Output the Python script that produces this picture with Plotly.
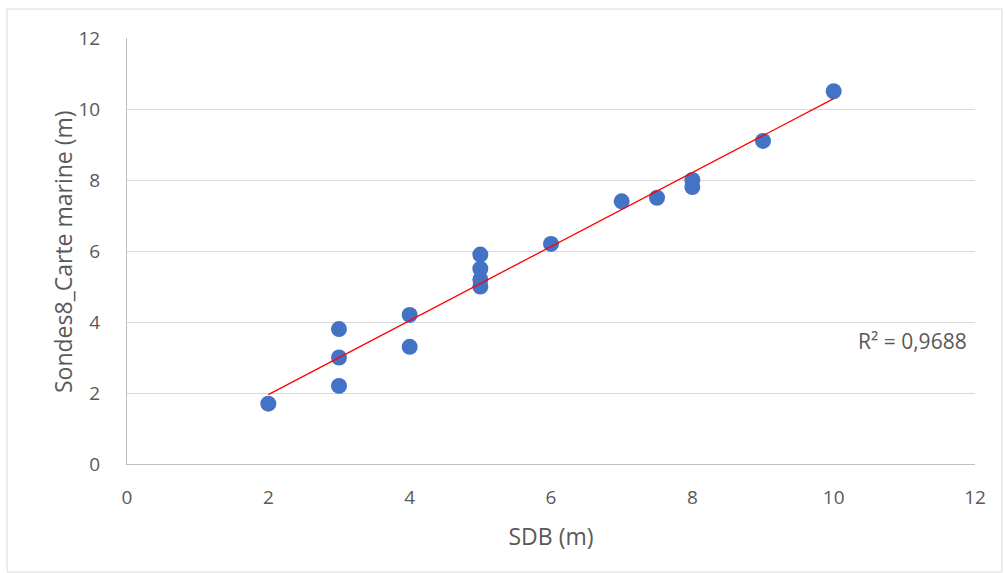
import numpy as np
import plotly.graph_objects as go

# Data
sdb = [2, 3, 3, 3, 4, 4, 5, 5, 5, 5, 6, 7, 7.5, 8, 8, 9, 10]
sondes = [1.7, 3.8, 3.0, 2.2, 4.2, 3.3, 5.9, 5.5, 5.2, 5.0, 6.2, 7.4, 7.5, 8.0, 7.8, 9.1, 10.5]
x_ticks = [0, 2, 4, 6, 8, 10, 12]
y_ticks = [0, 2, 4, 6, 8, 10, 12]
r2_label = "R² = 0,9688"

slope, intercept = np.polyfit(sdb, sondes, 1)
trend_x = [min(sdb), max(sdb)]
trend_y = [slope * v + intercept for v in trend_x]

font_family = "Open Sans, Liberation Sans, sans-serif"
grey_text = "#595959"

fig = go.Figure()
fig.add_trace(go.Scatter(
    x=sdb, y=sondes, mode="markers",
    marker=dict(size=16, color="#4472C4", line=dict(width=0)),
    showlegend=False, hoverinfo="x+y",
))
fig.add_trace(go.Scatter(
    x=trend_x, y=trend_y, mode="lines",
    line=dict(color="#FF0000", width=1.3),
    showlegend=False, hoverinfo="skip",
))

fig.add_annotation(
    x=11.12, y=3.46, xref="x", yref="y", text=r2_label, showarrow=False,
    font=dict(family=font_family, size=21, color=grey_text),
)
# y-axis title
fig.add_annotation(
    x=-64 / 848, y=(464 - 252) / 426, xref="paper", yref="paper",
    text="Sondes8_Carte marine (m)", textangle=-90, showarrow=False,
    xanchor="center", yanchor="middle",
    font=dict(family=font_family, size=23, color=grey_text),
)

fig.update_layout(
    width=1005, height=573,
    margin=dict(l=127, r=30, t=38, b=109),
    paper_bgcolor="white", plot_bgcolor="white",
    font=dict(family=font_family, size=19, color=grey_text),
    shapes=[dict(type="rect", xref="paper", yref="paper",
                 x0=-120/848, x1=1.0 + 27/848, y0=-108/426, y1=1.0 + 29/426,
                 line=dict(color="#D9D9D9", width=1), fillcolor="rgba(0,0,0,0)",
                 layer="below")],
)
fig.update_xaxes(
    range=[0, 12], tickvals=x_ticks, ticktext=[str(v) for v in x_ticks],
    showgrid=False, zeroline=False, showline=True, linecolor="#BFBFBF", linewidth=1,
    ticks="outside", ticklen=0, ticklabelstandoff=16,
    title=dict(text="SDB (m)", font=dict(size=23, color=grey_text), standoff=20),
)
fig.update_yaxes(
    range=[0, 12], tickvals=y_ticks, ticktext=[str(v) for v in y_ticks],
    showgrid=True, gridcolor="#D9D9D9", gridwidth=1,
    zeroline=False, showline=True, linecolor="#BFBFBF", linewidth=1,
    ticks="outside", ticklen=0, ticklabelstandoff=22,
)

fig.write_html("out.html")
